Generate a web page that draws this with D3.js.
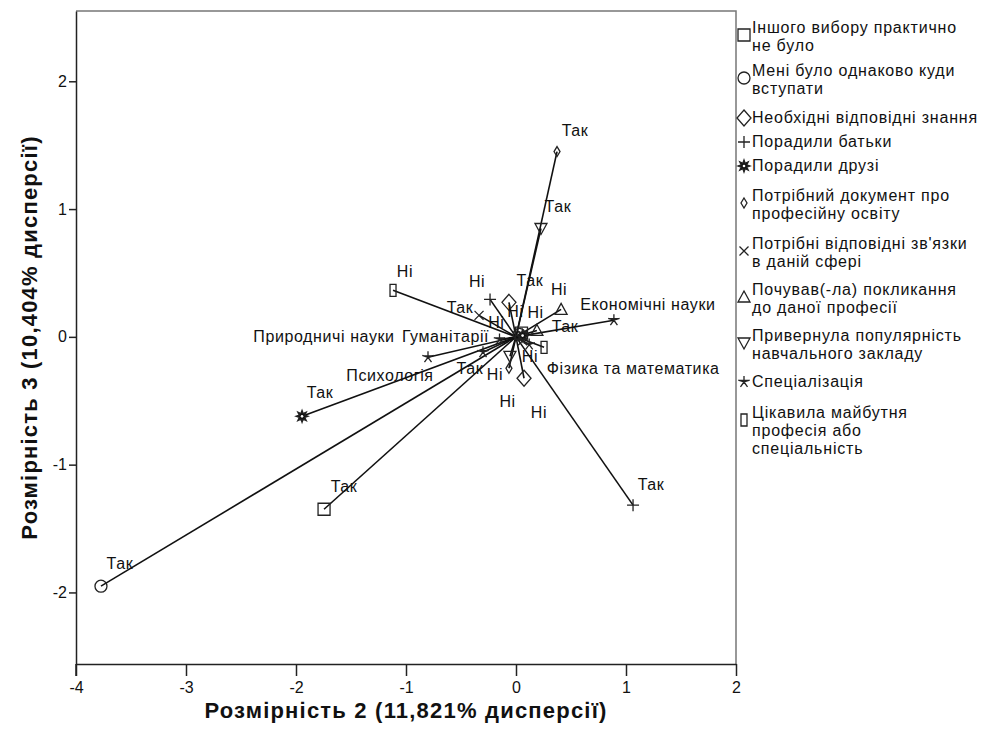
<!DOCTYPE html>
<html>
<head>
<meta charset="utf-8">
<script src="https://cdn.jsdelivr.net/npm/d3@7"></script>
<style>
  html, body { margin: 0; padding: 0; background: #fff; }
  svg { display: block; }
  text { font-family: "Liberation Sans", Arial, sans-serif; fill: #111; }
</style>
</head>
<body>
<svg id="chart" width="987" height="751"></svg>
<script>
// Binary questionnaire items (answers "Так" / "Ні") and their legend labels
const itemNames = [
  ["Іншого вибору практично", "не було"],
  ["Мені було однаково куди", "вступати"],
  ["Необхідні відповідні знання"],
  ["Порадили батьки"],
  ["Порадили друзі"],
  ["Потрібний документ про", "професійну освіту"],
  ["Потрібні відповідні зв'язки", "в даній сфері"],
  ["Почував(-ла) покликання", "до даної професії"],
  ["Привернула популярність", "навчального закладу"],
  ["Цікавила майбутня", "професія або", "спеціальність"]
];
const itemSymbols = ["square", "circle", "diamond", "plus", "burst", "smallDiamond", "cross", "triangleUp", "triangleDown", "narrowRect"];

// Category coordinates: [dimension 2, dimension 3]
const takPoints = [
  [-1.745, -1.349], [-3.773, -1.951], [-0.064, 0.270], [1.064, -1.317], [-1.945, -0.622],
  [0.373, 1.450], [-0.336, 0.168], [0.190, 0.050], [0.227, 0.848], [0.255, -0.082]
];
const niPoints = [
  [0.050, 0.030], [0.030, 0.020], [0.073, -0.324], [-0.236, 0.293], [0.060, 0.010],
  [-0.064, -0.246], [0.060, -0.030], [0.410, 0.215], [-0.055, -0.152], [-1.118, 0.364]
];

// Specialisation categories
const specName = "Спеціалізація";
const specCategories = ["Гуманітарії", "Економічні науки", "Природничі науки", "Психологія", "Фізика та математика"];
const specPoints = [[-0.150, -0.020], [0.890, 0.130], [-0.800, -0.160], [-0.300, -0.120], [0.120, -0.060]];

// Axis ticks and titles
const xTicks = [-4, -3, -2, -1, 0, 1, 2];
const yTicks = [-2, -1, 0, 1, 2];
const xTitle = "Розмірність 2 (11,821% дисперсії)";
const yTitle = "Розмірність 3 (10,404% дисперсії)";

// Label placement (pixel offsets of label centre / baseline from the marker)
const takLabelOffsets = [[20, -17], [19, -17], [21, -16], [18, -15], [18, -18], [18, -16], [-19, -2], [-67, 44], [17, -16], [21, -15]];
const niLabelOffsets = [[-6, -16], [-23, -6], [15, 40], [-13, -12], [13, -18], [-14, 12], [-15, 66], [-2, -14], [20, 6], [12, -13]];
const specLabelOffsets = [[-54, 3], [34, -10], [-104, -15], [-93, 29], [104, 29]];

const svg = d3.select("#chart");
const margin = { left: 76, right: 736, top: 11, bottom: 664 };

const x = d3.scaleLinear().domain([-4, 2]).range([margin.left, margin.right]);
const y = d3.scaleLinear().domain([-2.56, 2.55]).range([margin.bottom, margin.top]);

// Marker shapes, drawn around (0,0)
function markerPath(type) {
  const p = d3.path();
  switch (type) {
    case "square": p.rect(-6, -6, 12, 12); break;
    case "circle": p.arc(0, 0, 6, 0, 2 * Math.PI); break;
    case "diamond": p.moveTo(0, -8); p.lineTo(7, 0); p.lineTo(0, 8); p.lineTo(-7, 0); p.closePath(); break;
    case "plus": p.moveTo(-6, 0); p.lineTo(6, 0); p.moveTo(0, -6); p.lineTo(0, 6); break;
    case "smallDiamond": p.moveTo(0, -5); p.lineTo(3, 0); p.lineTo(0, 5); p.lineTo(-3, 0); p.closePath(); break;
    case "cross": p.moveTo(-4.5, -4.5); p.lineTo(4.5, 4.5); p.moveTo(4.5, -4.5); p.lineTo(-4.5, 4.5); break;
    case "triangleUp": p.moveTo(0, -6); p.lineTo(6, 5); p.lineTo(-6, 5); p.closePath(); break;
    case "triangleDown": p.moveTo(0, 6); p.lineTo(6, -5); p.lineTo(-6, -5); p.closePath(); break;
    case "narrowRect": p.rect(-3, -6, 6, 12); break;
    case "burst": {
      for (let i = 0; i < 16; i++) {
        const r = i % 2 === 0 ? 6 : 3;
        const a = i * Math.PI / 8 - Math.PI / 2;
        if (i === 0) p.moveTo(r * Math.cos(a), r * Math.sin(a)); else p.lineTo(r * Math.cos(a), r * Math.sin(a));
      }
      p.closePath();
      break;
    }
    case "star": {
      for (let i = 0; i < 5; i++) {
        const a = i * 2 * Math.PI / 5 - Math.PI / 2;
        p.moveTo(0, 0); p.lineTo(6 * Math.cos(a), 6 * Math.sin(a));
      }
      p.moveTo(-5, -1.5); p.lineTo(5, -1.5);
      break;
    }
  }
  return p.toString();
}

function drawMarker(g, type, cx, cy) {
  const filled = type === "burst";
  g.append("path")
    .attr("d", markerPath(type))
    .attr("transform", `translate(${cx},${cy})`)
    .attr("fill", filled ? "#111" : "none")
    .attr("stroke", "#222")
    .attr("stroke-width", 1.3);
  if (filled) {
    g.append("circle").attr("cx", cx).attr("cy", cy).attr("r", 1.3).attr("fill", "#fff");
  }
}

// Frame (top and right sides)
svg.append("path")
  .attr("d", `M${margin.left},${margin.top}H${margin.right}V${margin.bottom}`)
  .attr("fill", "none").attr("stroke", "#777").attr("stroke-width", 1.5);

// Axes
const intFmt = d => String(d);  // plain hyphen-minus for negative ticks
const xAxis = svg.append("g")
  .attr("transform", `translate(0,${margin.bottom})`)
  .call(d3.axisBottom(x).tickValues(xTicks).tickFormat(intFmt).tickSize(12).tickSizeOuter(0));
const yAxis = svg.append("g")
  .attr("transform", `translate(${margin.left},0)`)
  .call(d3.axisLeft(y).tickValues(yTicks).tickFormat(intFmt).tickSize(7).tickSizeOuter(0));

[xAxis, yAxis].forEach(a => {
  a.select(".domain").attr("stroke", "#222").attr("stroke-width", 1.5);
  a.selectAll(".tick line").attr("stroke", "#222").attr("stroke-width", 1.5);
  a.selectAll(".tick text")
    .style("font-family", "'Liberation Sans Narrow', 'Liberation Sans', Arial, sans-serif")
    .style("font-size", "16px").attr("fill", "#222");
});
xAxis.selectAll(".tick text").attr("y", 18);
yAxis.selectAll(".tick text").attr("x", -9);
// Left axis continues down to the x-axis tick level
svg.append("line")
  .attr("x1", margin.left).attr("x2", margin.left)
  .attr("y1", margin.bottom).attr("y2", margin.bottom + 12)
  .attr("stroke", "#222").attr("stroke-width", 1.5);

// Axis titles
svg.append("text")
  .attr("x", (margin.left + margin.right) / 2).attr("y", 718)
  .attr("text-anchor", "middle")
  .style("font-size", "22px").style("font-weight", "bold").style("letter-spacing", "1.2px")
  .text(xTitle);
svg.append("text")
  .attr("transform", `translate(37,${(margin.top + margin.bottom) / 2}) rotate(-90)`)
  .attr("text-anchor", "middle")
  .style("font-size", "22px").style("font-weight", "bold").style("letter-spacing", "1.2px")
  .text(yTitle);

// Vectors from the origin to every category point
const ox = x(0), oy = y(0);
const lines = svg.append("g");
const allPoints = [...takPoints, ...niPoints, ...specPoints];
allPoints.forEach(d => {
  lines.append("line")
    .attr("x1", ox).attr("y1", oy)
    .attr("x2", x(d[0])).attr("y2", y(d[1]))
    .attr("stroke", "#111").attr("stroke-width", 1.6);
});

// Markers
const marks = svg.append("g");
takPoints.forEach((d, i) => drawMarker(marks, itemSymbols[i], x(d[0]), y(d[1])));
niPoints.forEach((d, i) => drawMarker(marks, itemSymbols[i], x(d[0]), y(d[1])));
specPoints.forEach(d => drawMarker(marks, "star", x(d[0]), y(d[1])));

// Point labels
const labels = svg.append("g").style("font-size", "16px").style("letter-spacing", "0.6px");
function addLabel(txt, d, off) {
  labels.append("text")
    .attr("x", x(d[0]) + off[0]).attr("y", y(d[1]) + off[1])
    .attr("text-anchor", "middle")
    .text(txt);
}
takPoints.forEach((d, i) => addLabel("Так", d, takLabelOffsets[i]));
niPoints.forEach((d, i) => addLabel("Ні", d, niLabelOffsets[i]));
specPoints.forEach((d, i) => addLabel(specCategories[i], d, specLabelOffsets[i]));

// Legend
const legendEntries = [
  ...itemNames.slice(0, 9).map((n, i) => ({ lines: n, symbol: itemSymbols[i] })),
  { lines: [specName], symbol: "star" },
  { lines: itemNames[9], symbol: itemSymbols[9] }
];
const legendRowY = [28, 71, 118, 142, 166, 196, 244, 290, 336, 382, 413];
const legend = svg.append("g").style("font-size", "16px");
legendEntries.forEach((e, i) => {
  const y0 = legendRowY[i];
  const my = y0 + (e.lines.length > 1 ? 7 : 0);
  drawMarker(legend, e.symbol, 744, my);
  e.lines.forEach((ln, j) => {
    legend.append("text")
      .attr("x", 752).attr("y", y0 + 5 + j * 18)
      .style("letter-spacing", "0.8px")
      .text(ln);
  });
});
</script>
</body>
</html>
